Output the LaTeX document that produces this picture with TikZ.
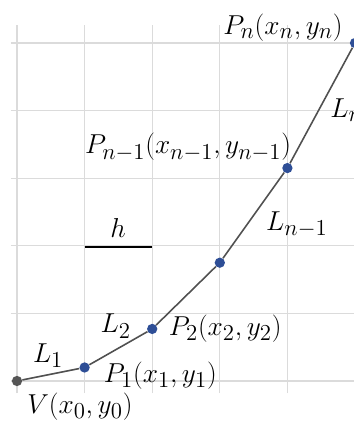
\documentclass[tikz,border=0pt]{standalone}
\usepackage{amsmath}
\usepackage{xcolor}
\usetikzlibrary{positioning}
\definecolor{puntoblu}{RGB}{46,78,150}
\definecolor{puntogrigio}{RGB}{85,85,85}
\definecolor{lineagrigia}{RGB}{80,80,80}

\begin{document}
\begin{tikzpicture}[x=1.5cm,y=1.5cm,
        griglia/.style={gray!28, line width=0.8pt},
        linea/.style={lineagrigia, line width=1pt},
        punto/.style={circle, fill=puntoblu, inner sep=0pt, minimum size=6.5pt},
        etichetta/.style={font=\fontsize{19}{22}\selectfont, inner sep=0pt}]
        % Area visibile
        \clip (-0.2515,-0.6065) rectangle (4.985,5.636);

        % Griglia
        \foreach \y in {0,...,5}
            \draw[griglia] (-0.09,\y) -- (5.3,\y);
        \foreach \x in {0,...,5}
            \draw[griglia] (\x,-0.18) -- (\x,5.27);

        % Vertici della spezzata
        \node[punto, fill=puntogrigio] (V) at (0,0) {};
        \foreach \nome/\x/\y in {P1/1/0.2, P2/2/0.77, P3/3/1.75, Pm/4/3.15, Pn/5/5}
            \node[punto] (\nome) at (\x,\y) {};

        % Segmenti
        \draw[linea] (V) -- (P1) -- (P2) -- (P3) -- (Pm) -- (Pn);

        % Passo h
        \coordinate (hA) at (1,1.98);
        \coordinate (hB) at (2,1.98);
        \draw[line width=1.6pt] (hA) -- (hB);
        \node[etichetta] (h) at (1.494,2.27) {$h$};

        % Etichette dei punti e dei segmenti
        \node[etichetta] (lV) at (0.93,-0.38) {$V(x_0,y_0)$};
        \node[etichetta] (lP1) at (2.12,0.085) {$P_1(x_1,y_1)$};
        \node[etichetta] (lP2) at (3.08,0.78) {$P_2(x_2,y_2)$};
        \node[etichetta] (lPm) at (2.53,3.46) {$P_{n-1}(x_{n-1},y_{n-1})$};
        \node[etichetta] (lPn) at (3.935,5.222) {$P_n(x_n,y_n)$};
        \node[etichetta] (L1) at (0.46,0.37) {$L_1$};
        \node[etichetta] (L2) at (1.46,0.81) {$L_2$};
        \node[etichetta] (Lm) at (4.14,2.31) {$L_{n-1}$};
        \node[etichetta, anchor=west] (Ln) at (4.63,4.01) {$L_n$};
    \end{tikzpicture}
\end{document}
